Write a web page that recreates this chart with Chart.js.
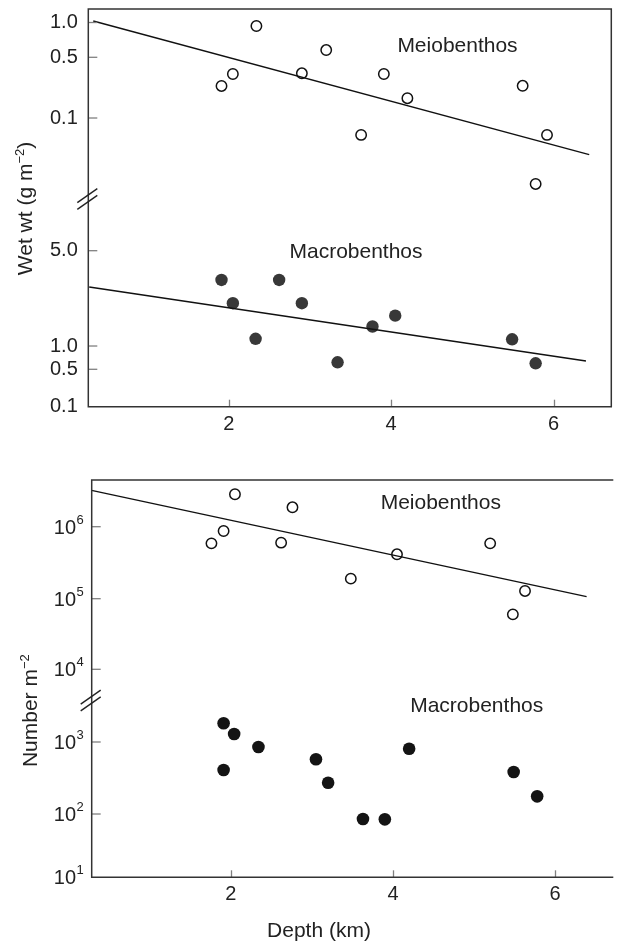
<!DOCTYPE html>
<html>
<head>
<meta charset="utf-8">
<script src="https://cdn.jsdelivr.net/npm/chart.js@4.4.1/dist/chart.umd.min.js"></script>
<style>
  html, body { margin: 0; padding: 0; background: #fff; overflow: hidden; }
  #wetChart { position: absolute; left: 0; top: 0; }
  #numChart { position: absolute; left: 0; top: 450px; }
</style>
</head>
<body>
<canvas id="wetChart" width="618" height="450"></canvas>
<canvas id="numChart" width="618" height="491"></canvas>
<script>
// ---- data (depth in km) ----
// upper panel: wet weight, g m-2
const wetMeioDepth = [1.91, 2.05, 2.34, 2.90, 3.20, 3.63, 3.91, 4.20, 5.62, 5.92, 5.78];
const wetMeioValue = [0.234, 0.321, 0.933, 0.327, 0.578, 0.067, 0.321, 0.169, 0.235, 0.067, 0.021];
const wetMeioFitDepth = [0.33, 6.44];
const wetMeioFitValue = [1.03, 0.042];

const wetMacroDepth = [1.91, 2.05, 2.33, 2.62, 2.90, 3.34, 3.77, 4.05, 5.49, 5.78];
const wetMacroValue = [3.05, 2.06, 1.13, 3.05, 2.06, 0.616, 1.39, 1.67, 1.12, 0.598];
const wetMacroFitDepth = [0.28, 6.40];
const wetMacroFitValue = [2.71, 0.64];

// lower panel: number m-2
const numMeioDepth = [1.76, 1.91, 2.05, 2.62, 2.76, 3.48, 4.05, 5.20, 5.48, 5.63];
const numMeioValue = [5.87e5, 8.71e5, 2.82e6, 6.0e5, 1.86e6, 1.90e5, 4.14e5, 5.87e5, 6.0e4, 1.28e5];
const numMeioFitDepth = [0.28, 6.39];
const numMeioFitValue = [3.2e6, 1.07e5];

const numMacroDepth = [1.91, 2.04, 2.34, 1.91, 3.05, 3.20, 3.63, 3.90, 4.20, 5.49, 5.78];
const numMacroValue = [1820, 1290, 852, 408, 577, 272, 83.4, 82.4, 807, 383, 176];

// ticks
const depthTicks = [2, 4, 6];
const wetMeioTicks = [0.1, 0.5, 1.0];
const wetMacroTicks = [0.1, 0.5, 1.0, 5.0];
const numMeioTicks = [1e4, 1e5, 1e6];
const numMacroTicks = [10, 100, 1000];

// the printed axis is not a true log scale: [value, fraction of segment height]
const wetMeioStops = [[0.0147, 0], [0.1, 0.4263], [0.5, 0.7458], [1.0, 0.9289], [1.31, 1]];
const wetMacroStops = [[0.1, 0], [0.5, 0.1801], [1.0, 0.2922], [5.0, 0.7511], [12, 1]];
const numMeioStops = [[3610, 0], [1e4, 0.1415], [1e5, 0.4617], [1e6, 0.7882], [4.45e6, 1]];
const numMacroStops = [[10, 0], [100, 0.3580], [1000, 0.7653], [3770, 1]];

const FONT = '"Liberation Sans", Arial, Helvetica, sans-serif';
const TEXT = '#222';
const LINE = '#333';

const pts = (xs, ys) => xs.map((x, i) => ({ x, y: ys[i] }));

// log scale interpolated piecewise between stops
class StopLogScale extends Chart.LogarithmicScale {
  static id = 'stopLog';
  static defaults = {};
  determineDataLimits() {
    const a = this.options.stops;
    this.min = a[0][0];
    this.max = a[a.length - 1][0];
  }
  buildTicks() {
    return this.options.tickValues.map(v => ({ value: v }));
  }
  getPixelForValue(value) {
    const a = this.options.stops, lv = Math.log10(value);
    let i = 1;
    while (i < a.length - 1 && lv > Math.log10(a[i][0])) i++;
    const l0 = Math.log10(a[i - 1][0]), l1 = Math.log10(a[i][0]);
    const f = a[i - 1][1] + (lv - l0) / (l1 - l0) * (a[i][1] - a[i - 1][1]);
    return this.getPixelForDecimal(f);
  }
  getValueForPixel(pixel) {
    const a = this.options.stops, f = this.getDecimalForPixel(pixel);
    let i = 1;
    while (i < a.length - 1 && f > a[i][1]) i++;
    const t = (f - a[i - 1][1]) / (a[i][1] - a[i - 1][1]);
    const l0 = Math.log10(a[i - 1][0]), l1 = Math.log10(a[i][0]);
    return Math.pow(10, l0 + t * (l1 - l0));
  }
}
Chart.register(StopLogScale);

function fixSize(prop, size) {
  return s => {
    s[prop] = size;
    s.paddingTop = s.paddingBottom = s.paddingLeft = s.paddingRight = 0;
  };
}

function line(ctx, x1, y1, x2, y2) {
  ctx.beginPath(); ctx.moveTo(x1, y1); ctx.lineTo(x2, y2); ctx.stroke();
}

function rotatedTitle(ctx, x, y, main, sup, tail) {
  ctx.save();
  ctx.translate(x, y);
  ctx.rotate(-Math.PI / 2);
  ctx.fillStyle = TEXT;
  ctx.textAlign = 'left';
  ctx.textBaseline = 'alphabetic';
  ctx.font = '21px ' + FONT;
  const w1 = ctx.measureText(main).width, w3 = ctx.measureText(tail).width;
  ctx.font = '13px ' + FONT;
  const w2 = ctx.measureText(sup).width;
  let cx = -(w1 + w2 + w3) / 2;
  ctx.font = '21px ' + FONT; ctx.fillText(main, cx, 0); cx += w1;
  ctx.font = '13px ' + FONT; ctx.fillText(sup, cx, -8); cx += w2;
  ctx.font = '21px ' + FONT; ctx.fillText(tail, cx, 0);
  ctx.restore();
}

// frame, inward ticks, axis break, labels
const decor = {
  id: 'decor',
  afterDraw(chart, args, o) {
    const { ctx, chartArea: a, scales } = chart;
    ctx.save();
    ctx.lineCap = 'butt';

    // inward tick marks
    ctx.strokeStyle = '#808080';
    ctx.lineWidth = 1.3;
    const xs = scales.x;
    xs.ticks.forEach((t, i) => {
      const px = Math.round(xs.getPixelForTick(i)) + 0.5;
      line(ctx, px, a.bottom, px, a.bottom - 7);
    });
    o.yIds.forEach(id => {
      const s = scales[id];
      s.ticks.forEach((t, i) => {
        const py = s.getPixelForTick(i);
        if (Math.abs(py - a.bottom) < 2) return;
        line(ctx, a.left, py, a.left + 9, py);
      });
    });

    // frame
    ctx.strokeStyle = LINE;
    ctx.lineWidth = 1.5;
    ctx.beginPath();
    if (o.closed) {
      ctx.rect(a.left, a.top, a.right - a.left, a.bottom - a.top);
    } else {
      ctx.moveTo(a.right + 2, a.top);
      ctx.lineTo(a.left, a.top);
      ctx.lineTo(a.left, a.bottom);
      ctx.lineTo(a.right + 2, a.bottom);
    }
    ctx.stroke();

    // axis break between the stacked segments
    const by = scales[o.yIds[0]].bottom;
    const bx = a.left - 1;
    ctx.lineWidth = 1.4;
    ctx.strokeStyle = '#222';
    [-3.4, 3.4].forEach(d => line(ctx, bx - 10, by + d + 7, bx + 10, by + d - 7));

    // superscript tick labels
    if (o.expIds) {
      ctx.fillStyle = TEXT;
      o.expIds.forEach(id => {
        const s = scales[id];
        s.ticks.forEach((t, i) => {
          const py = s.getPixelForTick(i);
          ctx.font = '20px ' + FONT;
          ctx.textAlign = 'right';
          ctx.textBaseline = 'middle';
          ctx.fillText('10', 76, py + 1.5);
          ctx.font = '13px ' + FONT;
          ctx.textAlign = 'left';
          ctx.textBaseline = 'alphabetic';
          ctx.fillText(String(Math.round(Math.log10(t.value))), 76.5, py - 3);
        });
      });
    }

    // group labels
    ctx.fillStyle = TEXT;
    ctx.font = '21px ' + FONT;
    ctx.textAlign = 'center';
    ctx.textBaseline = 'alphabetic';
    o.notes.forEach(n => ctx.fillText(n.text, n.x, n.y));

    rotatedTitle(ctx, o.title.x, o.title.y, o.title.main, o.title.sup, o.title.tail);
    ctx.restore();
  }
};

const tickFont = { family: FONT, size: 20 };

function xScale(min, max, height) {
  return {
    type: 'linear', position: 'bottom', min, max,
    afterBuildTicks: s => { s.ticks = depthTicks.map(v => ({ value: v })); },
    afterFit: fixSize('height', height),
    grid: { display: false, drawTicks: false },
    border: { display: false },
    ticks: { font: tickFont, color: TEXT, padding: 5.5, autoSkip: false, maxRotation: 0 }
  };
}

function yScale(stack, weight, stackWeight, stops, tickValues, width, showTicks) {
  return {
    type: 'stopLog', position: 'left', stack, weight, stackWeight, stops, tickValues,
    afterFit: fixSize('width', width),
    grid: { display: false, drawTicks: false },
    border: { display: false },
    ticks: {
      display: showTicks, font: tickFont, color: TEXT, padding: 10.5, autoSkip: false,
      callback: v => v.toFixed(1)
    }
  };
}

const openPts = { pointRadius: 5.2, pointBorderWidth: 1.5, borderColor: '#111', backgroundColor: '#fff', pointHoverRadius: 5.2 };
const fitLine = { showLine: true, pointRadius: 0, borderColor: '#111', borderWidth: 1.4, fill: false };

const common = {
  responsive: false,
  animation: false,
  devicePixelRatio: 1,
  events: [],
  plugins: { legend: { display: false }, tooltip: { enabled: false } }
};

new Chart(document.getElementById('wetChart'), {
  type: 'scatter',
  data: {
    datasets: [
      { data: pts(wetMeioFitDepth, wetMeioFitValue), yAxisID: 'yMeio', clip: false, ...fitLine },
      { data: pts(wetMacroFitDepth, wetMacroFitValue), yAxisID: 'yMacro', clip: false, ...fitLine },
      { data: pts(wetMeioDepth, wetMeioValue), yAxisID: 'yMeio', clip: false, ...openPts },
      { data: pts(wetMacroDepth, wetMacroValue), yAxisID: 'yMacro', clip: false,
        pointRadius: 6.2, pointBorderWidth: 0, backgroundColor: '#383838', borderColor: '#383838' }
    ]
  },
  options: {
    ...common,
    layout: { padding: { top: 9, right: 2, left: 0, bottom: 0 } },
    scales: {
      x: xScale(0.269, 6.712, 43.3),
      yMeio: yScale('wet', 1, 190, wetMeioStops, wetMeioTicks, 88.3, true),
      yMacro: yScale('wet', 0, 207.7, wetMacroStops, wetMacroTicks, 88.3, true)
    },
    plugins: {
      ...common.plugins,
      decor: {
        closed: true,
        yIds: ['yMeio', 'yMacro'],
        notes: [
          { text: 'Meiobenthos', x: 457.5, y: 51.7 },
          { text: 'Macrobenthos', x: 356, y: 258.3 }
        ],
        title: { x: 31.7, y: 208.5, main: 'Wet wt (g m', sup: '\u22122', tail: ')' }
      }
    }
  },
  plugins: [decor]
});

new Chart(document.getElementById('numChart'), {
  type: 'scatter',
  data: {
    datasets: [
      { data: pts(numMeioFitDepth, numMeioFitValue), yAxisID: 'yMeio', clip: false, ...fitLine },
      { data: pts(numMeioDepth, numMeioValue), yAxisID: 'yMeio', clip: false, ...openPts },
      { data: pts(numMacroDepth, numMacroValue), yAxisID: 'yMacro', clip: false,
        pointRadius: 6.3, pointBorderWidth: 0, backgroundColor: '#141414', borderColor: '#141414' }
    ]
  },
  options: {
    ...common,
    layout: { padding: { top: 30, right: 0, left: 0, bottom: 0 } },
    scales: {
      x: xScale(0.282, 6.695, 63.7),
      yMeio: yScale('num', 1, 220.5, numMeioStops, numMeioTicks, 91.7, false),
      yMacro: yScale('num', 0, 176.8, numMacroStops, numMacroTicks, 91.7, false)
    },
    plugins: {
      ...common.plugins,
      decor: {
        closed: false,
        yIds: ['yMeio', 'yMacro'],
        expIds: ['yMeio', 'yMacro'],
        notes: [
          { text: 'Meiobenthos', x: 440.8, y: 59 },
          { text: 'Macrobenthos', x: 476.7, y: 262.3 },
          { text: 'Depth (km)', x: 319, y: 487 }
        ],
        title: { x: 36.7, y: 260.7, main: 'Number m', sup: '\u22122', tail: '' }
      }
    }
  },
  plugins: [decor]
});
</script>
</body>
</html>
